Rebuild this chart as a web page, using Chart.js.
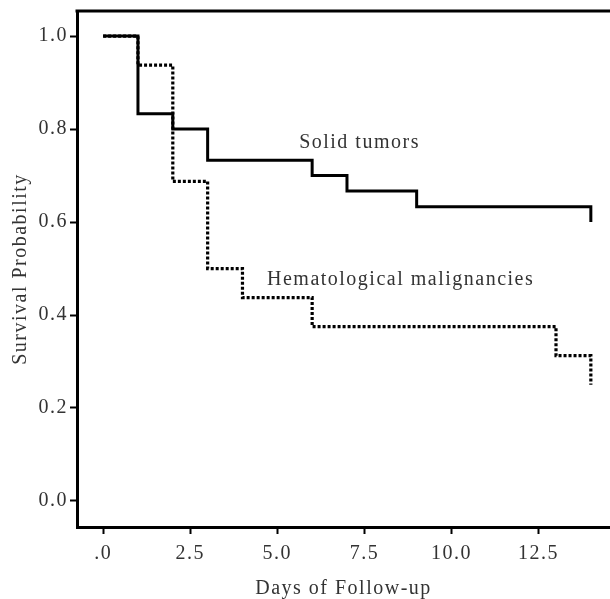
<!DOCTYPE html>
<html>
<head>
<meta charset="utf-8">
<script src="https://cdn.jsdelivr.net/npm/chart.js@4"></script>
<style>
  body { margin: 0; background: #fff; }
  canvas { display: block; }
</style>
</head>
<body>
<canvas id="km" width="610" height="599"></canvas>
<script>
// Kaplan-Meier curves
let solidDays = [0, 1, 2, 3, 6, 7, 9, 14];
let solidSurv = [1.0, 0.833, 0.8, 0.733, 0.7, 0.667, 0.633, 0.6];
let hemaDays = [0, 1, 2, 3, 4, 6, 13, 14];
let hemaSurv = [1.0, 0.9375, 0.6875, 0.5, 0.4375, 0.375, 0.3125, 0.25];

let xTickVals = [0, 2.5, 5, 7.5, 10, 12.5];
let xTickText = ['.0', '2.5', '5.0', '7.5', '10.0', '12.5'];
let yTickVals = [0, 0.2, 0.4, 0.6, 0.8, 1.0];
let yTickText = ['0.0', '0.2', '0.4', '0.6', '0.8', '1.0'];

let seriesLabels = [
    {text: 'Solid tumors', x: 7.36, y: 0.77},
    {text: 'Hematological malignancies', x: 8.54, y: 0.475},
];

const FONT = '"Liberation Serif", "DejaVu Serif", serif';
const FSIZE = 20;
const LSPACE = '1.5px';

function toPoints(days, surv) {
    let pts = [];
    for (let i = 0; i < days.length; i++) {
        pts.push({x: days[i], y: surv[i]});
    }
    return pts;
}

// letter spacing for the wide serif look
const spacingPlugin = {
    id: 'spacing',
    beforeInit(chart) { chart.ctx.letterSpacing = LSPACE; },
    beforeDraw(chart) { chart.ctx.letterSpacing = LSPACE; },
};

// top frame line and curve labels
const framePlugin = {
    id: 'frame',
    afterDraw(chart) {
        let ctx = chart.ctx;
        let area = chart.chartArea;
        let xs = chart.scales.x, ys = chart.scales.y;
        ctx.save();
        ctx.strokeStyle = '#000';
        ctx.lineWidth = 3;
        ctx.beginPath();
        ctx.moveTo(area.left - 1.5, area.top);
        ctx.lineTo(area.right, area.top);
        ctx.stroke();

        ctx.fillStyle = '#333';
        ctx.font = FSIZE + 'px ' + FONT;
        ctx.letterSpacing = LSPACE;
        ctx.textAlign = 'center';
        ctx.textBaseline = 'middle';
        seriesLabels.forEach(function(lab) {
            ctx.fillText(lab.text, xs.getPixelForValue(lab.x), ys.getPixelForValue(lab.y));
        });
        ctx.restore();
    }
};

new Chart(document.getElementById('km'), {
    type: 'line',
    data: {
        datasets: [
            {
                label: 'Solid tumors',
                data: toPoints(solidDays, solidSurv),
                stepped: true,
                borderColor: '#000',
                borderWidth: 3,
                pointRadius: 0,
                fill: false,
            },
            {
                label: 'Hematological malignancies',
                data: toPoints(hemaDays, hemaSurv),
                stepped: true,
                borderColor: '#000',
                borderWidth: 3.2,
                borderDash: [3, 2],
                borderCapStyle: 'butt',
                pointRadius: 0,
                fill: false,
            },
        ]
    },
    options: {
        responsive: false,
        animation: false,
        layout: {padding: {top: 11, right: 0, left: 0, bottom: 0}},
        plugins: {
            legend: {display: false},
            tooltip: {enabled: false},
        },
        scales: {
            x: {
                type: 'linear',
                min: -0.75,
                max: 14.55,
                afterBuildTicks(scale) {
                    scale.ticks = xTickVals.map(v => ({value: v}));
                },
                afterFit(scale) {
                    scale.height = 72;
                    scale.paddingLeft = 0;
                    scale.paddingRight = 0;
                },
                ticks: {
                    color: '#333',
                    font: {family: FONT, size: FSIZE},
                    padding: 8,
                    callback: function(v) { return xTickText[xTickVals.indexOf(v)]; },
                },
                grid: {
                    drawOnChartArea: false,
                    color: '#000',
                    tickLength: 7,
                    tickWidth: 2,
                },
                border: {color: '#000', width: 3},
                title: {
                    display: true,
                    text: 'Days of Follow-up',
                    color: '#333',
                    font: {family: FONT, size: FSIZE, lineHeight: 1.0},
                    padding: {top: 5, bottom: 0},
                },
            },
            y: {
                type: 'linear',
                min: -0.056,
                max: 1.054,
                afterBuildTicks(scale) {
                    scale.ticks = yTickVals.map(v => ({value: v}));
                },
                afterFit(scale) {
                    scale.width = 77;
                    scale.paddingTop = 0;
                    scale.paddingBottom = 0;
                },
                ticks: {
                    color: '#333',
                    font: {family: FONT, size: FSIZE},
                    padding: 2,
                    callback: function(v) { return yTickText[yTickVals.indexOf(v)]; },
                },
                grid: {
                    drawOnChartArea: false,
                    color: '#000',
                    tickLength: 7,
                    tickWidth: 2,
                },
                border: {color: '#000', width: 3},
                title: {
                    display: true,
                    text: 'Survival Probability',
                    color: '#333',
                    font: {family: FONT, size: FSIZE},
                    padding: {top: 9, bottom: 4},
                },
            },
        },
    },
    plugins: [spacingPlugin, framePlugin],
});
</script>
</body>
</html>
